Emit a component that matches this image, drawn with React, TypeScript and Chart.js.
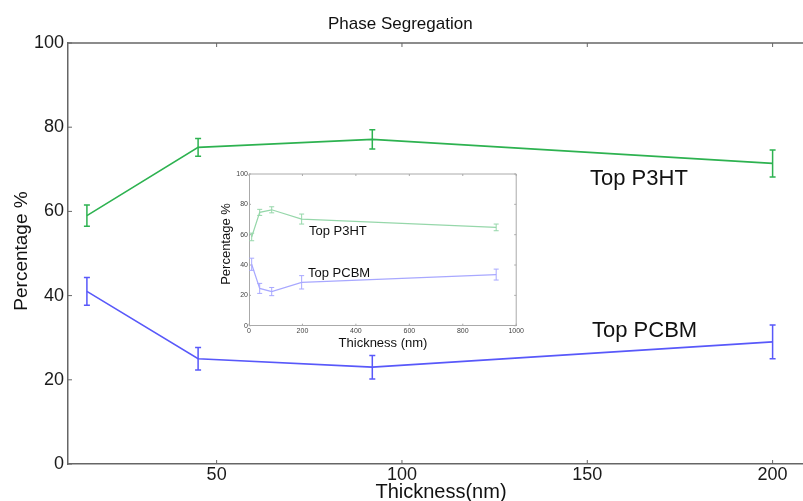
import React, { useEffect, useRef } from "react";
import { Chart, registerables } from "chart.js";

Chart.register(...registerables);

// ---- main chart data ----
const thickness = [15, 45, 92, 200];
const p3ht = [59, 75.2, 77.1, 71.4];
const p3htErr = [2.5, 2.1, 2.3, 3.2];
const pcbm = [41, 25, 23, 29];
const pcbmErr = [3.3, 2.7, 2.8, 4.0];
const xTicks = [50, 100, 150, 200];
const yTicks = [0, 20, 40, 60, 80, 100];

// ---- inset data ----
const insetThickness = [10, 40, 85, 197, 925];
const insetP3ht = [58.5, 74.7, 76.4, 70.3, 64.8];
const insetP3htErr = [2.5, 2.0, 2.0, 3.3, 2.2];
const insetPcbm = [40.5, 24.6, 22.5, 28.6, 33.7];
const insetPcbmErr = [4.0, 3.3, 2.7, 4.4, 3.6];
const insetXTicks = [0, 200, 400, 600, 800, 1000];
const insetYTicks = [0, 20, 40, 60, 80, 100];

const FONT = "'Liberation Sans', Arial, sans-serif";
const GREEN = "rgb(45,178,80)";
const BLUE = "rgb(88,88,250)";
const IGREEN = "rgb(150,215,170)";
const IBLUE = "rgb(168,168,255)";

function pts(xs: number[], ys: number[]) {
  return xs.map((x, i) => ({ x, y: ys[i] }));
}

function drawErr(chart: any, xs: number[], ys: number[], es: number[], color: string, cap: number, lw: number) {
  const ctx = chart.ctx;
  const xs_ = chart.scales.x;
  const ys_ = chart.scales.y;
  ctx.save();
  ctx.strokeStyle = color;
  ctx.lineWidth = lw;
  xs.forEach((x, i) => {
    const px = xs_.getPixelForValue(x);
    const t = ys_.getPixelForValue(ys[i] + es[i]);
    const b = ys_.getPixelForValue(ys[i] - es[i]);
    ctx.beginPath();
    ctx.moveTo(px, t);
    ctx.lineTo(px, b);
    ctx.moveTo(px - cap, t);
    ctx.lineTo(px + cap, t);
    ctx.moveTo(px - cap, b);
    ctx.lineTo(px + cap, b);
    ctx.stroke();
  });
  ctx.restore();
}

const mainPlugin = {
  id: "mainOverlay",
  afterDatasetsDraw(chart: any) {
    drawErr(chart, thickness, p3ht, p3htErr, GREEN, 3, 1.5);
    drawErr(chart, thickness, pcbm, pcbmErr, BLUE, 3, 1.5);
  },
  afterDraw(chart: any) {
    const ctx = chart.ctx;
    const a = chart.chartArea;
    const sx = chart.scales.x;
    const sy = chart.scales.y;
    ctx.save();
    ctx.strokeStyle = "#666";
    ctx.lineWidth = 1.5;
    ctx.beginPath();
    ctx.moveTo(a.left, a.top);
    ctx.lineTo(a.right, a.top);
    ctx.stroke();
    ctx.lineWidth = 1;
    ctx.beginPath();
    xTicks.forEach((v) => {
      const px = sx.getPixelForValue(v);
      ctx.moveTo(px, a.bottom);
      ctx.lineTo(px, a.bottom - 4);
      ctx.moveTo(px, a.top);
      ctx.lineTo(px, a.top + 4);
    });
    yTicks.forEach((v) => {
      const py = sy.getPixelForValue(v);
      ctx.moveTo(a.left, py);
      ctx.lineTo(a.left + 4, py);
    });
    ctx.stroke();

    ctx.fillStyle = "#111";
    ctx.textAlign = "left";
    ctx.textBaseline = "alphabetic";
    ctx.font = `17px ${FONT}`;
    ctx.fillText("Phase Segregation", 328, 29);

    ctx.font = `22px ${FONT}`;
    ctx.fillText("Top P3HT", 590, 185);
    ctx.fillText("Top PCBM", 592, 337);

    ctx.font = `20px ${FONT}`;
    ctx.textAlign = "center";
    ctx.fillText("Thickness(nm)", 441, 498);

    ctx.save();
    ctx.translate(27, 251);
    ctx.rotate(-Math.PI / 2);
    ctx.font = `19px ${FONT}`;
    ctx.fillText("Percentage %", 0, 0);
    ctx.restore();
    ctx.restore();
  },
};

const insetPlugin = {
  id: "insetOverlay",
  afterDatasetsDraw(chart: any) {
    drawErr(chart, insetThickness, insetP3ht, insetP3htErr, IGREEN, 2.5, 1);
    drawErr(chart, insetThickness, insetPcbm, insetPcbmErr, IBLUE, 2.5, 1);
  },
  afterDraw(chart: any) {
    const ctx = chart.ctx;
    const a = chart.chartArea;
    const sx = chart.scales.x;
    const sy = chart.scales.y;
    ctx.save();
    ctx.strokeStyle = "#aaa";
    ctx.lineWidth = 1;
    ctx.beginPath();
    ctx.moveTo(a.left, a.top);
    ctx.lineTo(a.right, a.top);
    ctx.lineTo(a.right, a.bottom);
    ctx.stroke();
    ctx.beginPath();
    insetXTicks.forEach((v) => {
      const px = sx.getPixelForValue(v);
      ctx.moveTo(px, a.bottom);
      ctx.lineTo(px, a.bottom - 2);
      ctx.moveTo(px, a.top);
      ctx.lineTo(px, a.top + 2);
    });
    insetYTicks.forEach((v) => {
      const py = sy.getPixelForValue(v);
      ctx.moveTo(a.left, py);
      ctx.lineTo(a.left + 2, py);
      ctx.moveTo(a.right, py);
      ctx.lineTo(a.right - 2, py);
    });
    ctx.stroke();

    ctx.fillStyle = "#111";
    ctx.textAlign = "left";
    ctx.textBaseline = "alphabetic";
    ctx.font = `13px ${FONT}`;
    ctx.fillText("Top P3HT", 309 - 215, 235 - 165);
    ctx.fillText("Top PCBM", 308 - 215, 277 - 165);

    ctx.textAlign = "center";
    ctx.fillText("Thickness (nm)", 383 - 215, 347 - 165);
    ctx.save();
    ctx.translate(230 - 215, 244 - 165);
    ctx.rotate(-Math.PI / 2);
    ctx.fillText("Percentage %", 0, 0);
    ctx.restore();
    ctx.restore();
  },
};

const plain = (v: any) => String(v);

export default function App() {
  const mainRef = useRef<HTMLCanvasElement | null>(null);
  const insetRef = useRef<HTMLCanvasElement | null>(null);

  useEffect(() => {
    Chart.defaults.font.family = FONT;
    const main = new Chart(mainRef.current as HTMLCanvasElement, {
      type: "line",
      data: {
        datasets: [
          { data: pts(thickness, p3ht), borderColor: GREEN, borderWidth: 1.6, pointRadius: 0, tension: 0, fill: false },
          { data: pts(thickness, pcbm), borderColor: BLUE, borderWidth: 1.6, pointRadius: 0, tension: 0, fill: false },
        ],
      },
      options: {
        animation: false,
        responsive: false,
        maintainAspectRatio: false,
        layout: { padding: { top: 43, right: 0, left: 0, bottom: 0 } },
        plugins: { legend: { display: false }, tooltip: { enabled: false }, title: { display: false } },
        scales: {
          x: {
            type: "linear",
            min: 9.9,
            max: 208.2,
            afterBuildTicks: (s: any) => {
              s.ticks = xTicks.map((v) => ({ value: v }));
            },
            afterFit: (s: any) => {
              s.height = 37;
            },
            grid: { display: false, drawTicks: false },
            border: { display: true, color: "#666", width: 1.5 },
            ticks: { font: { size: 18 }, color: "#1a1a1a", padding: 0, maxRotation: 0, autoSkip: false, callback: plain },
          },
          y: {
            type: "linear",
            min: 0,
            max: 100,
            afterBuildTicks: (s: any) => {
              s.ticks = yTicks.map((v) => ({ value: v }));
            },
            afterFit: (s: any) => {
              s.width = 68;
            },
            grid: { display: false, drawTicks: false },
            border: { display: true, color: "#666", width: 1.5 },
            ticks: { font: { size: 18 }, color: "#1a1a1a", padding: 4, autoSkip: false, callback: plain },
          },
        },
      },
      plugins: [mainPlugin],
    } as any);

    const inset = new Chart(insetRef.current as HTMLCanvasElement, {
      type: "line",
      data: {
        datasets: [
          { data: pts(insetThickness, insetP3ht), borderColor: IGREEN, borderWidth: 1.2, pointRadius: 0, tension: 0, fill: false },
          { data: pts(insetThickness, insetPcbm), borderColor: IBLUE, borderWidth: 1.2, pointRadius: 0, tension: 0, fill: false },
        ],
      },
      options: {
        animation: false,
        responsive: false,
        maintainAspectRatio: false,
        layout: { padding: { top: 9, right: 7.3, left: 0, bottom: 0 } },
        plugins: { legend: { display: false }, tooltip: { enabled: false }, title: { display: false } },
        scales: {
          x: {
            type: "linear",
            min: 0,
            max: 1000,
            afterBuildTicks: (s: any) => {
              s.ticks = insetXTicks.map((v) => ({ value: v }));
            },
            afterFit: (s: any) => {
              s.height = 29.3;
            },
            grid: { display: false, drawTicks: false },
            border: { display: true, color: "#aaa", width: 1 },
            ticks: { font: { size: 7 }, color: "#444", padding: 1, maxRotation: 0, autoSkip: false, callback: plain },
          },
          y: {
            type: "linear",
            min: 0,
            max: 100,
            afterBuildTicks: (s: any) => {
              s.ticks = insetYTicks.map((v) => ({ value: v }));
            },
            afterFit: (s: any) => {
              s.width = 34;
            },
            grid: { display: false, drawTicks: false },
            border: { display: true, color: "#aaa", width: 1 },
            ticks: { font: { size: 7 }, color: "#444", padding: 1, autoSkip: false, callback: plain },
          },
        },
      },
      plugins: [insetPlugin],
    } as any);

    return () => {
      main.destroy();
      inset.destroy();
    };
  }, []);

  return (
    <div style={{ position: "absolute", left: 0, top: 0, width: 803, height: 501, background: "#fff", overflow: "hidden" }}>
      <canvas ref={mainRef} width={803} height={501} style={{ position: "absolute", left: 0, top: 0, width: 803, height: 501 }} />
      <canvas ref={insetRef} width={310} height={190} style={{ position: "absolute", left: 215, top: 165, width: 310, height: 190 }} />
    </div>
  );
}
